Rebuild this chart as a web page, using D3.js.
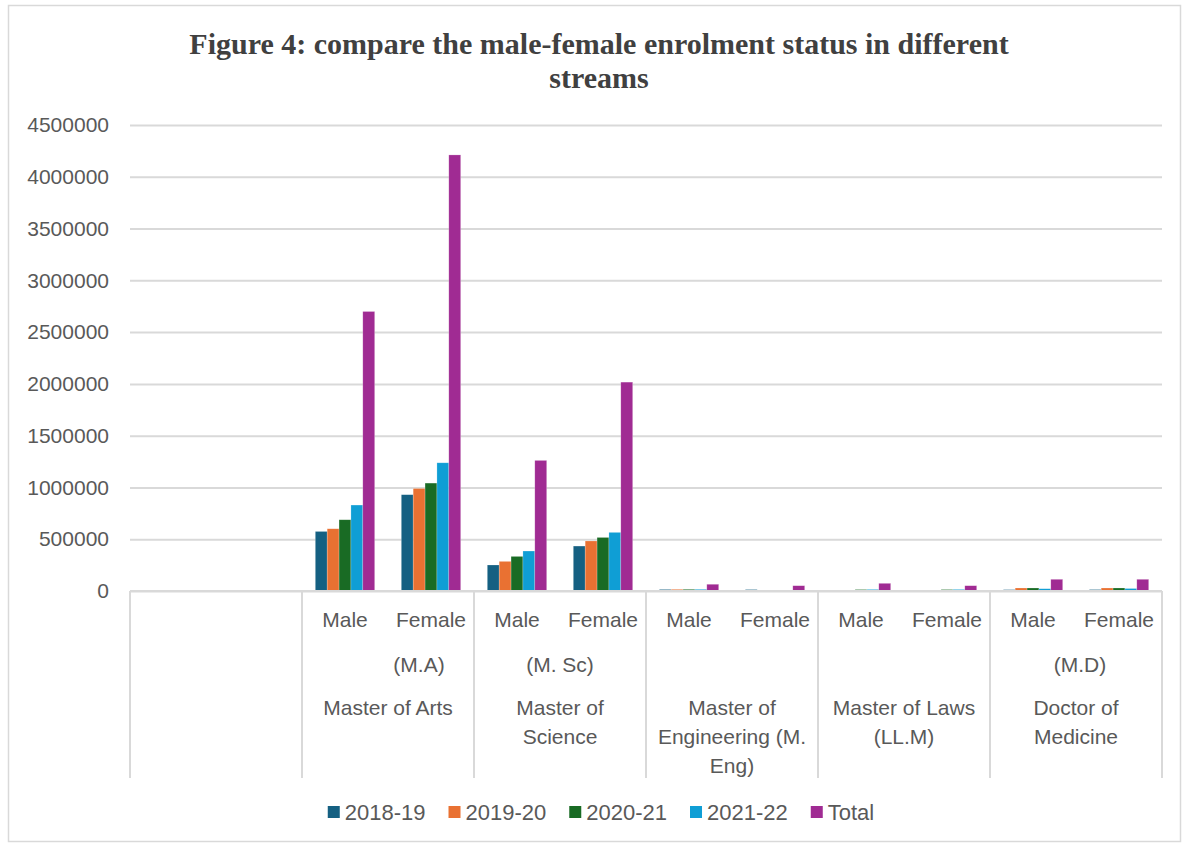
<!DOCTYPE html>
<html>
<head>
<meta charset="utf-8">
<script src="https://cdn.jsdelivr.net/npm/d3@7"></script>
<style>
  html, body { margin: 0; padding: 0; background: #ffffff; }
  svg { display: block; }
  text { font-family: "Liberation Sans", Arial, sans-serif; fill: #595959; }
</style>
</head>
<body>
<svg id="chart" width="1186" height="847"></svg>
<script>
// ---- data ----
const seriesNames = ["2018-19", "2019-20", "2020-21", "2021-22", "Total"];
const seriesColors = ["#156082", "#E97132", "#196B24", "#0F9ED5", "#A02B93"];

// top-level groups (the first one is an empty block on the axis)
const groups = ["", "MA", "MSc", "MEng", "LLM", "MD"];
const groupLines = [
  [],
  ["Master of Arts"],
  ["Master of", "Science"],
  ["Master of", "Engineering (M.", "Eng)"],
  ["Master of Laws", "(LL.M)"],
  ["Doctor of", "Medicine"]
];
const groupAbbrev = ["", "(M.A)", "(M. Sc)", "", "", "(M.D)"];
const sexes = ["Male", "Female"];

// values per category, in order: MA M, MA F, MSc M, MSc F, MEng M, MEng F, LLM M, LLM F, MD M, MD F
const v2018 = [575000, 930000, 251000, 434000, 15000, 14000, 0, 0, 13000, 14000];
const v2019 = [601000, 990000, 286000, 483000, 16000, 0, 0, 0, 29000, 29000];
const v2020 = [688000, 1042000, 334000, 517000, 16000, 0, 14000, 14000, 29000, 29000];
const v2021 = [830000, 1238000, 386000, 566000, 16000, 0, 15000, 15000, 22000, 24000];
const vTotal = [2699000, 4211000, 1261000, 2017000, 65000, 51000, 74000, 51000, 113000, 113000];

const yTicks = [0, 500000, 1000000, 1500000, 2000000, 2500000, 3000000, 3500000, 4000000, 4500000];

// ---- layout ----
const plot = { left: 130, right: 1162, top: 125, bottom: 591 };
const axisDepth = 778;
const gridColor = "#d9d9d9";

const svg = d3.select("#chart");

// chart frame
svg.append("rect")
  .attr("x", 8.5).attr("y", 5.5)
  .attr("width", 1172).attr("height", 836)
  .attr("fill", "#fff").attr("stroke", gridColor).attr("stroke-width", 1.5);

// title
const title = svg.append("text")
  .attr("text-anchor", "middle")
  .style("font-family", "'Liberation Serif', 'Times New Roman', serif")
  .style("font-weight", "bold")
  .style("font-size", "30px")
  .style("fill", "#404040");
title.append("tspan").attr("x", 599).attr("y", 54)
  .text("Figure 4: compare the male-female enrolment status in different");
title.append("tspan").attr("x", 599).attr("y", 88).text("streams");

// scales
const x0 = d3.scaleBand().domain(d3.range(groups.length))
  .range([plot.left, plot.right]).paddingInner(0).paddingOuter(0);
const x1 = d3.scaleBand().domain(sexes)
  .range([0, x0.bandwidth()]).paddingInner(0).paddingOuter(0);
const x2 = d3.scaleBand().domain(seriesNames)
  .range([0, x1.bandwidth()]).paddingInner(0).paddingOuter(1.12);
const y = d3.scaleLinear().domain([0, 4500000]).range([plot.bottom, plot.top]);

// gridlines and y labels
const yAxis = d3.axisLeft(y).tickValues(yTicks).tickFormat(d3.format("d"))
  .tickSize(-(plot.right - plot.left)).tickPadding(21);
const gy = svg.append("g").attr("transform", `translate(${plot.left},0)`).call(yAxis);
gy.select(".domain").remove();
gy.selectAll(".tick line").attr("stroke", gridColor).attr("stroke-width", 2);
gy.selectAll(".tick text").style("font-size", "21px").attr("fill", "#595959")
  .style("font-family", "'Liberation Sans', Arial, sans-serif");

// category rows: flat list of (group, sex)
const cats = [];
groups.forEach((g, gi) => {
  if (gi === 0) return;
  sexes.forEach(s => cats.push({ gi, sex: s }));
});
const seriesValues = [v2018, v2019, v2020, v2021, vTotal];

// bars
seriesNames.forEach((name, si) => {
  svg.append("g").selectAll("rect")
    .data(cats.map((c, ci) => ({ ...c, v: seriesValues[si][ci] })))
    .join("rect")
    .attr("x", d => x0(d.gi) + x1(d.sex) + x2(name))
    .attr("width", x2.bandwidth())
    .attr("y", d => y(d.v))
    .attr("height", d => y(0) - y(d.v))
    .attr("fill", seriesColors[si])
    .attr("stroke", d => d.v > 0 ? "rgba(255,255,255,0.35)" : "none")
    .attr("stroke-width", 0.6);
});

// x axis baseline and group separators
svg.append("line")
  .attr("x1", plot.left).attr("x2", plot.right)
  .attr("y1", plot.bottom).attr("y2", plot.bottom)
  .attr("stroke", gridColor).attr("stroke-width", 2);
const bounds = d3.range(groups.length).map(i => x0(i)).concat([plot.right]);
svg.append("g").selectAll("line").data(bounds).join("line")
  .attr("x1", d => d).attr("x2", d => d)
  .attr("y1", plot.bottom).attr("y2", axisDepth)
  .attr("stroke", gridColor).attr("stroke-width", 2);

// Male / Female labels
svg.append("g").selectAll("text").data(cats).join("text")
  .attr("x", d => x0(d.gi) + x1(d.sex) + x1.bandwidth() / 2)
  .attr("y", 627)
  .attr("text-anchor", "middle")
  .style("font-size", "21px")
  .text(d => d.sex);

// abbreviation row
const abbrevNudge = [0, 31, 0, 0, 0, 4];
svg.append("g").selectAll("text").data(groupAbbrev.map((t, i) => ({ t, i })).filter(d => d.t))
  .join("text")
  .attr("x", d => x0(d.i) + x0.bandwidth() / 2 + abbrevNudge[d.i])
  .attr("y", 672)
  .attr("text-anchor", "middle")
  .style("font-size", "21px")
  .text(d => d.t);

// group names (wrapped)
const gName = svg.append("g");
groupLines.forEach((lines, gi) => {
  lines.forEach((ln, li) => {
    gName.append("text")
      .attr("x", x0(gi) + x0.bandwidth() / 2)
      .attr("y", 715 + li * 29)
      .attr("text-anchor", "middle")
      .style("font-size", "21px")
      .text(ln);
  });
});

// legend
const legend = svg.append("g");
const items = [];
seriesNames.forEach((name, i) => {
  const g = legend.append("g");
  g.append("rect").attr("x", 0).attr("y", -6).attr("width", 12).attr("height", 12)
    .attr("fill", seriesColors[i]);
  const t = g.append("text").attr("x", 17).attr("y", 8)
    .style("font-size", "22px").text(name);
  const w = 17 + t.node().getComputedTextLength();
  items.push({ g, w });
});
const gap = 23;
const totalW = d3.sum(items, d => d.w) + gap * (items.length - 1);
let lx = 601 - totalW / 2;
items.forEach(it => {
  it.g.attr("transform", `translate(${lx},812)`);
  lx += it.w + gap;
});
</script>
</body>
</html>
